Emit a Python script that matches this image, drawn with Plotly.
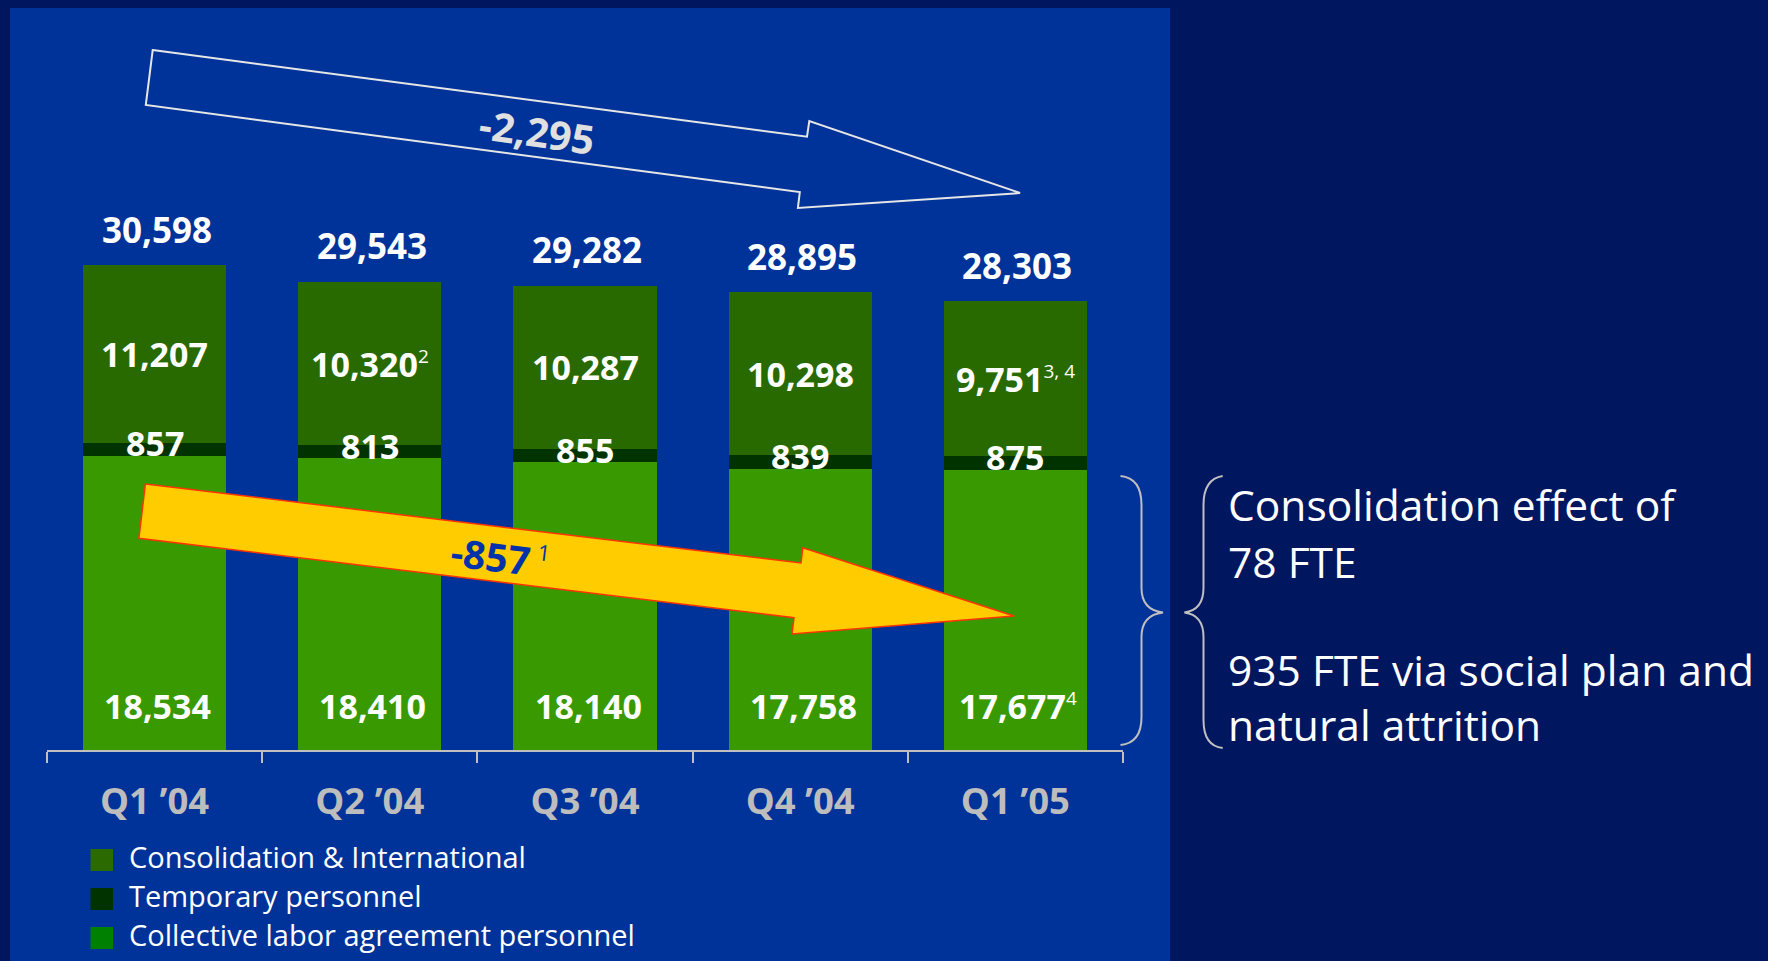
import plotly.graph_objects as go

# ---------------- data ----------------
categories = ["Q1 ’04", "Q2 ’04", "Q3 ’04", "Q4 ’04", "Q1 ’05"]
collective = [18534, 18410, 18140, 17758, 17677]
temporary = [857, 813, 855, 839, 875]
consolidation = [11207, 10320, 10287, 10298, 9751]
totals = [30598, 29543, 29282, 28895, 28303]
series_names = ["Consolidation & International", "Temporary personnel",
                "Collective labor agreement personnel"]
consolidation_notes = ["", "2", "", "", "3, 4"]
collective_notes = ["", "", "", "", "4"]
collective_change_note = "1"
side_notes = ["Consolidation effect of", "78 FTE",
              "935 FTE via social plan and<br>natural attrition"]

# ---------------- styles ----------------
W, H = 1768, 961
L, R, B = 47, 1123, 750
YMAX = 40000
TOP = 116
OUTER_BG = "#00165E"
PANEL = "#003399"
C_CONS = "#286A00"
C_TEMP = "#003300"
C_COLL = "#399900"
SW_COLORS = ["#2A6A00", "#003300", "#008000"]
FONT = "Open Sans"
GRAY = "#C0C0C0"


def px(x):
    return (x - L) / (R - L)


def py(y):
    return (B - y) / (B - TOP)


def pt(x, y):
    return f"{px(x):.5f},{py(y):.5f}"


def fmt(v):
    return f"{v:,}"


fig = go.Figure()
fig.add_bar(x=categories, y=collective, name=series_names[2], marker_color=C_COLL,
            marker_line_width=0, showlegend=False, hoverinfo="skip")
fig.add_bar(x=categories, y=temporary, name=series_names[1], marker_color=C_TEMP,
            marker_line_width=0, showlegend=False, hoverinfo="skip")
fig.add_bar(x=categories, y=consolidation, name=series_names[0], marker_color=C_CONS,
            marker_line_width=0, showlegend=False, hoverinfo="skip")

ann = []


def sup(s, size):
    return f"<sup><span style='font-size:{size}px'>{s}</span></sup>" if s else ""


for i, c in enumerate(categories):
    ann.append(dict(x=c, y=totals[i], xref="x", yref="y", text=f"<b>{fmt(totals[i])}</b>",
                    showarrow=False, yanchor="middle", yshift=36, xshift=2,
                    font=dict(family=FONT, size=35, color="white")))
    yc = collective[i] + temporary[i] + consolidation[i] / 2
    ann.append(dict(x=c, y=yc, xref="x", yref="y",
                    text=f"<b>{fmt(consolidation[i])}</b>{sup(consolidation_notes[i], 19)}",
                    showarrow=False, yanchor="middle",
                    font=dict(family=FONT, size=34, color="white")))
    yt = collective[i] + temporary[i] / 2
    ann.append(dict(x=c, y=yt, xref="x", yref="y", text=f"<b>{fmt(temporary[i])}</b>",
                    showarrow=False, yanchor="middle", yshift=6,
                    font=dict(family=FONT, size=34, color="white")))
    ann.append(dict(x=c, y=0, xref="x", yref="y",
                    text=f"<b>{fmt(collective[i])}</b>{sup(collective_notes[i], 19)}",
                    showarrow=False, yanchor="middle", yshift=44, xshift=3,
                    font=dict(family=FONT, size=34, color="white")))

total_change = totals[-1] - totals[0]
coll_change = collective[-1] - collective[0]
ann.append(dict(x=px(537), y=py(132), xref="paper", yref="paper",
                text=f"<b>{fmt(total_change)}</b>", showarrow=False, textangle=8,
                xanchor="center", yanchor="middle",
                font=dict(family=FONT, size=40, color="#E0E0E0")))
ann.append(dict(x=px(500), y=py(556), xref="paper", yref="paper",
                text=f"<b>{fmt(coll_change)}</b>\u2009{sup(collective_change_note, 22)}",
                showarrow=False, textangle=7, xanchor="center", yanchor="middle",
                font=dict(family=FONT, size=39, color="#0033AA")))

# side notes
for txt, yy in zip(side_notes, [504, 561, 697]):
    ann.append(dict(x=px(1226), y=py(yy), xref="paper", yref="paper", text=txt,
                    showarrow=False, xanchor="left", yanchor="middle", align="left",
                    font=dict(family=FONT, size=42.5, color="white")))

# custom legend
shapes = []
for name, col, yy in zip(series_names, SW_COLORS, [860, 899, 938]):
    shapes.append(dict(type="rect", xref="paper", yref="paper",
                       x0=px(90.5), x1=px(113), y0=py(yy - 11), y1=py(yy + 11),
                       fillcolor=col, line=dict(width=0)))
    ann.append(dict(x=px(127), y=py(yy - 4), xref="paper", yref="paper", text=name,
                    showarrow=False, xanchor="left", yanchor="middle",
                    font=dict(family=FONT, size=29, color="white")))

shapes.insert(0, dict(type="rect", xref="paper", yref="paper", layer="below",
                      x0=px(10), x1=px(1170), y0=py(975), y1=py(8),
                      fillcolor=PANEL, line=dict(width=0)))

white_arrow = ("M" + pt(152.7, 50) + " L" + pt(807, 136.7) + " L" + pt(809.3, 121) +
               " L" + pt(1020, 193) + " L" + pt(797.9, 208) + " L" + pt(799.8, 192) +
               " L" + pt(145.8, 105) + " Z")
shapes.append(dict(type="path", xref="paper", yref="paper", path=white_arrow,
                   line=dict(color="#E6E6E6", width=2), fillcolor="rgba(0,0,0,0)"))

yellow_arrow = ("M" + pt(145.4, 484) + " L" + pt(801, 563) + " L" + pt(802.8, 547.7) +
                " L" + pt(1014, 616) + " L" + pt(792, 634) + " L" + pt(794, 617.7) +
                " L" + pt(138.9, 538.3) + " Z")
shapes.append(dict(type="path", xref="paper", yref="paper", path=yellow_arrow,
                   line=dict(color="#FF3300", width=1.5), fillcolor="#FFCC00"))

right_brace = ("M" + pt(1120.5, 476) + " Q" + pt(1141.5, 478) + " " + pt(1141.5, 505) +
               " L" + pt(1141.5, 588) + " Q" + pt(1141.5, 610) + " " + pt(1163, 612.5) +
               " Q" + pt(1141.5, 615) + " " + pt(1141.5, 637) +
               " L" + pt(1141.5, 717) + " Q" + pt(1141.5, 743) + " " + pt(1120.5, 745))
left_brace = ("M" + pt(1222.7, 476) + " Q" + pt(1203.5, 479) + " " + pt(1203.5, 505) +
              " L" + pt(1203.5, 588) + " Q" + pt(1203.5, 610) + " " + pt(1184.4, 612.5) +
              " Q" + pt(1203.5, 615) + " " + pt(1203.5, 637) +
              " L" + pt(1203.5, 720) + " Q" + pt(1203.5, 746) + " " + pt(1222.7, 748))
for p in (right_brace, left_brace):
    shapes.append(dict(type="path", xref="paper", yref="paper", path=p,
                       line=dict(color="#BFBFBF", width=2)))

fig.update_layout(
    width=W, height=H,
    margin=dict(l=L, r=W - R, t=TOP, b=H - B, pad=0),
    paper_bgcolor=OUTER_BG, plot_bgcolor="rgba(0,0,0,0)",
    barmode="stack", bargap=0.335,
    showlegend=False,
    shapes=shapes, annotations=ann,
    xaxis=dict(showgrid=False, zeroline=False, showline=True, linecolor=GRAY, linewidth=2,
               ticks="outside", tickson="boundaries", ticklen=11, tickwidth=2, tickcolor=GRAY,
               ticklabelstandoff=18,
               tickfont=dict(family=FONT, size=36.5, color="#BDBDBD", weight="bold")),
    yaxis=dict(visible=False, range=[0, YMAX], showgrid=False, zeroline=False),
    font=dict(family=FONT),
)

fig.write_html("out.html", config=dict(displayModeBar=False),
               post_script="document.body.style.margin='0';document.body.style.overflow='hidden';")
